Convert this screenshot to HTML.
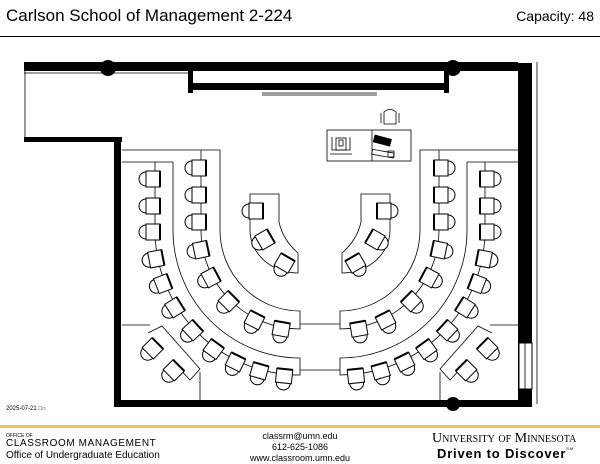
<!DOCTYPE html>
<html><head><meta charset="utf-8"><style>
html,body{margin:0;padding:0;background:#fff;}
body{width:600px;height:464px;position:relative;overflow:hidden;font-family:"Liberation Sans",sans-serif;}
.t{position:absolute;white-space:nowrap;color:#000;}
</style></head><body>
<div class="t" style="left:6px;top:6px;font-size:17px;">Carlson School of Management 2-224</div>
<div class="t" style="right:6px;top:8px;font-size:14px;">Capacity: 48</div>
<div style="position:absolute;left:0;top:36px;width:600px;height:1px;background:#000"></div>
<svg width="600" height="464" style="position:absolute;left:0;top:0" xmlns="http://www.w3.org/2000/svg">
<defs>
<g id="ch" fill="#fff" stroke="#000" stroke-width="1">
<path d="M-6,-7 A7,7 0 0 0 -6,7" />
<rect x="-6" y="-8" width="14" height="16"/>
<line x1="8" y1="-8" x2="8" y2="8" stroke-width="2"/>
</g>
</defs>
<g fill="#000">
<rect x="24" y="62" width="494" height="9"/>
<rect x="188" y="71" width="5" height="22"/>
<rect x="193" y="83" width="255" height="7"/>
<rect x="444" y="71" width="5" height="22"/>
<rect x="518" y="63" width="14" height="342"/>
<rect x="24" y="137" width="98" height="5"/>
<rect x="114" y="137" width="7" height="268"/>
<rect x="114" y="400" width="418" height="7"/>
<circle cx="108" cy="68" r="8"/>
<circle cx="453" cy="68" r="8"/>
<circle cx="453" cy="404" r="7"/>
</g>
<rect x="519" y="343" width="13" height="46" fill="#fff" stroke="#000" stroke-width="1"/>
<line x1="525" y1="343" x2="525" y2="389" stroke="#000" stroke-width="0.8"/>
<g stroke="#000" stroke-width="0.8" fill="none">
<line x1="25" y1="62" x2="25" y2="137"/>
<line x1="537" y1="62" x2="537" y2="404"/>
<line x1="24" y1="73" x2="188" y2="73"/>
<line x1="262" y1="93" x2="377" y2="93"/>
<line x1="262" y1="95" x2="377" y2="95"/>
<line x1="250" y1="404" x2="388" y2="404" stroke-dasharray="1,2" stroke-width="2"/>
</g>
<g stroke="#000" stroke-width="0.8" fill="none">
<rect x="327" y="130" width="84" height="31"/>
<line x1="372" y1="130" x2="372" y2="161"/>
<path d="M384,124 L384,112 Q390,107 396,112 L396,124 Z"/>
<line x1="381" y1="113" x2="381" y2="123"/><line x1="399" y1="113" x2="399" y2="123"/>
<rect x="336" y="138" width="10" height="12"/><rect x="339" y="140" width="4" height="6"/>
<path d="M332,137 L332,150 L350,150 L350,137"/>
<line x1="330" y1="154" x2="352" y2="154"/>
<rect x="374" y="137" width="17" height="7" transform="rotate(15 382 140)" fill="#000"/>
<rect x="372" y="151" width="22" height="5" transform="rotate(10 382 153)"/>
<rect x="388" y="151" width="6" height="6"/>
</g>
<g id="half">
<g stroke="#000" stroke-width="0.8" fill="none">
<line x1="122" y1="150" x2="220" y2="150"/>
<line x1="122" y1="162" x2="173" y2="162"/>
<path d="M155,162 L155,230 A145,145 0 0 0 300,375 L300,358 A127,128 0 0 1 173,230 L173,162"/>
<path d="M201,150 L201,230 A99,99 0 0 0 300,329 L300,311 A80,81 0 0 1 220,230 L220,150"/>
<path d="M250,194 L279,194 L279,222 Q283,240 298,253 L298,273 A48,43 0 0 1 250,230 Z"/>
<line x1="300" y1="324" x2="320" y2="324"/>
<line x1="300" y1="370" x2="320" y2="370"/>
<line x1="122" y1="325" x2="150" y2="325"/>
<line x1="200" y1="372" x2="200" y2="400"/>
<path d="M148,333 L162,326 L200,369 L190,380 L176,365"/>
</g>
<use href="#ch" transform="translate(152,179)"/>
<use href="#ch" transform="translate(152,206)"/>
<use href="#ch" transform="translate(152,232)"/>
<use href="#ch" transform="translate(155,259) rotate(-11)"/>
<use href="#ch" transform="translate(162,284) rotate(-21)"/>
<use href="#ch" transform="translate(174,308) rotate(-32)"/>
<use href="#ch" transform="translate(192,331) rotate(-43)"/>
<use href="#ch" transform="translate(213,350) rotate(-54)"/>
<use href="#ch" transform="translate(235,363) rotate(-64)"/>
<use href="#ch" transform="translate(259,372) rotate(-74)"/>
<use href="#ch" transform="translate(284,377) rotate(-84)"/>
<use href="#ch" transform="translate(198,168)"/>
<use href="#ch" transform="translate(198,195)"/>
<use href="#ch" transform="translate(198,222)"/>
<use href="#ch" transform="translate(200,250) rotate(-12)"/>
<use href="#ch" transform="translate(210,278) rotate(-28)"/>
<use href="#ch" transform="translate(228,302) rotate(-45)"/>
<use href="#ch" transform="translate(254,321) rotate(-63)"/>
<use href="#ch" transform="translate(281,330) rotate(-80)"/>
<use href="#ch" transform="translate(255,211)"/>
<use href="#ch" transform="translate(264,240) rotate(-30)"/>
<use href="#ch" transform="translate(284,264) rotate(-60)"/>
<use href="#ch" transform="translate(152,349) rotate(-45)"/>
<use href="#ch" transform="translate(173,371) rotate(-45)"/>
</g>
<use href="#half" transform="translate(640,0) scale(-1,1)"/>
<rect x="0" y="425" width="600" height="3" fill="#f0c24e"/>
</svg>
<div class="t" style="left:6px;top:406px;font-size:6px;">2025-07-21 □○</div>
<div class="t" style="left:6px;top:433px;font-size:5px;">OFFICE OF</div>
<div class="t" style="left:6px;top:438px;font-size:10px;letter-spacing:0.6px;">CLASSROOM MANAGEMENT</div>
<div class="t" style="left:6px;top:450px;font-size:10px;">Office of Undergraduate Education</div>
<div class="t" style="left:0;width:600px;text-align:center;top:431px;font-size:9px;">classrm@umn.edu</div>
<div class="t" style="left:0;width:600px;text-align:center;top:442px;font-size:9px;">612-625-1086</div>
<div class="t" style="left:0;width:600px;text-align:center;top:453px;font-size:9px;">www.classroom.umn.edu</div>
<div class="t" style="left:432px;top:431px;font-family:'Liberation Serif',serif;font-size:14px;font-variant:small-caps;">University of Minnesota</div>
<div class="t" style="left:437px;top:446px;font-size:13px;font-weight:bold;letter-spacing:0.8px;">Driven to Discover<span style="font-size:4px;vertical-align:top;font-weight:normal">SM</span></div>
</body></html>
